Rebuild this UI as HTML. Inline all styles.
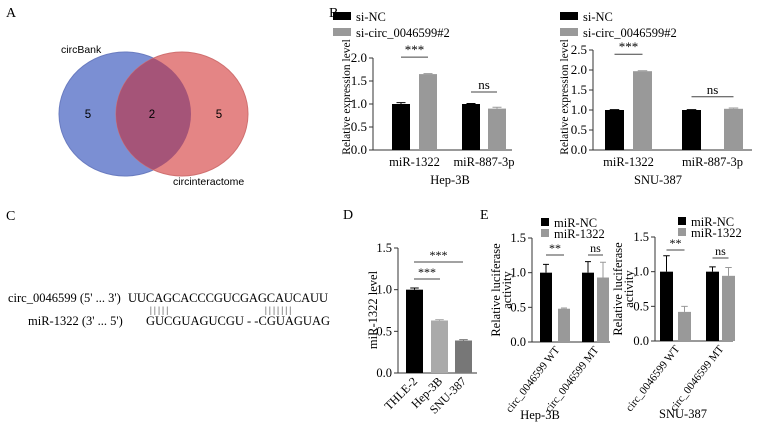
<!DOCTYPE html>
<html><head><meta charset="utf-8"><style>
body{margin:0;background:#fff;}
svg{display:block;font-family:"Liberation Serif",serif;}
</style></head><body>
<svg id="fig" width="770" height="440" viewBox="0 0 770 440">
<defs><clipPath id="clipL"><ellipse cx="125" cy="114" rx="66" ry="62"/></clipPath></defs>
<g>
<text x="6" y="17" font-size="14">A</text>
<ellipse cx="125" cy="114" rx="66" ry="62" fill="#7b8fd3" stroke="#6a7cc0"/>
<ellipse cx="182" cy="114" rx="66" ry="62" fill="#e48585" stroke="#d07070"/>
<ellipse cx="182" cy="114" rx="66" ry="62" fill="#a55478" clip-path="url(#clipL)"/>
<text x="61" y="53" font-family="Liberation Sans,sans-serif" font-size="10.5">circBank</text>
<text x="173" y="185" font-family="Liberation Sans,sans-serif" font-size="10.5">circinteractome</text>
<text x="88" y="118" font-family="Liberation Sans,sans-serif" font-size="11.5" text-anchor="middle">5</text>
<text x="152" y="118" font-family="Liberation Sans,sans-serif" font-size="11.5" text-anchor="middle">2</text>
<text x="219" y="118" font-family="Liberation Sans,sans-serif" font-size="11.5" text-anchor="middle">5</text>
</g>
<g font-size="12.5">
<text x="6" y="220" font-size="14">C</text>
<text x="8" y="302">circ_0046599 (5' ... 3')</text>
<text x="128" y="302" textLength="200">UUCAGCACCCGUCGAGCAUCAUU</text>
<text x="150" y="313" font-size="9">| | | | |</text>
<text x="265" y="313" font-size="9">| | | | | | |</text>
<text x="28" y="325">miR-1322 (3' ... 5')</text>
<text x="146" y="325" textLength="184">GUCGUAGUCGU - -CGUAGUAG</text>
</g>
<text x="329" y="17" font-size="14">B</text>
<text x="343" y="219" font-size="14">D</text>
<text x="480" y="219" font-size="14">E</text>
<g id="charts"></g>
</svg>
<script>
// Panel B left (Hep-3B)
const bCats = ['miR-1322','miR-887-3p'];
const b1NC = [1.0, 1.0];
const b1NCerr = [0.03, 0.01];
const b1Si = [1.65, 0.9];
const b1SiErr = [0.01, 0.03];
const b1Ticks = [0.0, 0.5, 1.0, 1.5, 2.0];
// Panel B right (SNU-387)
const b2NC = [1.0, 1.0];
const b2NCerr = [0.01, 0.01];
const b2Si = [1.97, 1.03];
const b2SiErr = [0.01, 0.02];
const b2Ticks = [0.0, 0.5, 1.0, 1.5, 2.0, 2.5];
// Panel D
const dCats = ['THLE-2','Hep-3B','SNU-387'];
const dVals = [1.0, 0.63, 0.39];
const dErr = [0.02, 0.01, 0.01];
const dTicks = [0.0, 0.5, 1.0, 1.5];
// Panel E
const eCats = ['circ_0046599 WT','circ_0046599 MT'];
const e1NC = [1.0, 1.0];
const e1NCerr = [0.12, 0.16];
const e1Mir = [0.48, 0.93];
const e1MirErr = [0.01, 0.22];
const e2NC = [1.0, 1.0];
const e2NCerr = [0.23, 0.07];
const e2Mir = [0.42, 0.94];
const e2MirErr = [0.08, 0.12];
const eTicks = [0.0, 0.5, 1.0, 1.5];

const NS='http://www.w3.org/2000/svg';
const root=document.getElementById('charts');
function el(tag,attrs,parent,text){const e=document.createElementNS(NS,tag);for(const k in attrs)e.setAttribute(k,attrs[k]);if(text!==undefined)e.textContent=text;(parent||root).appendChild(e);return e;}
function mk(y0,y1,vmax){return v=>y0-(y0-y1)*v/vmax;}

function axes(g,x0,x1,y,ticks,fs){
  const a=el('line',{x1:x0,y1:y(0),x2:x1,y2:y(0),stroke:'#333','stroke-width':1},g);
  
  
  const b=el('line',{x1:x0,y1:y(0),x2:x0,y2:y(ticks[ticks.length-1]),stroke:'#333','stroke-width':1},g);
  
  
  ticks.forEach(t=>{
    const l=el('line',{x1:x0-4,x2:x0,y1:y(t),y2:y(t),stroke:'#333'},g);
    
    
    const tx=el('text',{x:x0-6,y:y(t)+4,'font-size':fs,'text-anchor':'end'},g,t.toFixed(1));
    
    
  });
}
function bar(g,x,w,v,err,y,fill,name){
  const r=el('rect',{x:x,y:y(v),width:w,height:y(0)-y(v),fill:fill},g);
  
  
  const cx=x+w/2;
  const e=el('path',{d:`M${cx},${y(v)}V${y(v+err)}M${cx-w/4},${y(v+err)}H${cx+w/4}`,stroke:fill,'stroke-width':1,fill:'none'},g);
  
  
}
function sig(g,x1,x2,yy,txt,fs){
  const l=el('line',{x1:x1,x2:x2,y1:yy,y2:yy,stroke:'#444'},g);
  
  
  const t=el('text',{x:(x1+x2)/2,y:yy-3,'font-size':fs,'text-anchor':'middle'},g,txt);
  
  
}
function legend(g,x,y,labels,colors,fs,sw,sh,gap){
  labels.forEach((lb,i)=>{
    const r=el('rect',{x:x,y:y+i*gap-sh-1,width:sw,height:sh,fill:colors[i]},g);
    
    
    const t=el('text',{x:x+sw+5,y:y+i*gap,'font-size':fs},g,lb);
    
    
  });
}
const BLK='#000', GRY='#999';

function bChart(name,x0,x1,y0,y1,ticks,nc,ncE,si,siE,barX,bw,sigs,cell,cellX,ylab,ylabX,legX){
  const g=el('g',{});
  
  
  const y=mk(y0,y1,ticks[ticks.length-1]);
  axes(g,x0,x1,y,ticks,13);
  bCats.forEach((c,i)=>{
    bar(g,barX[i][0],bw,nc[i],ncE[i],y,BLK,'bar-si-nc-'+c);
    bar(g,barX[i][1],bw,si[i],siE[i],y,GRY,'bar-si-circ-'+c);
    const t=el('text',{x:(barX[i][0]+barX[i][1]+bw)/2,y:y0+16,'font-size':12.5,'text-anchor':'middle'},g,c);
    
    
    sig(g,barX[i][0]+bw/2,barX[i][1]+bw/2,y(Math.max(nc[i],si[i]))-(i==0?17:12),sigs[i],13);
  });
  const ct=el('text',{x:cellX,y:y0+34,'font-size':12.5,'text-anchor':'middle'},g,cell);
  
  
  const yl=el('text',{x:0,y:0,'font-size':11.5,'text-anchor':'middle',transform:`translate(${ylabX},97) rotate(-90)`},g,ylab);
  
  
  legend(g,legX,21,['si-NC','si-circ_0046599#2'],[BLK,GRY],12.5,18,8,16);
}
bChart('chart-b-hep3b',373,512,150,58,b1Ticks,b1NC,b1NCerr,b1Si,b1SiErr,[[392,419],[462,488]],18,['***','ns'],'Hep-3B',450,'Relative expression level',350,333);
bChart('chart-b-snu387',593,752,150,50,b2Ticks,b2NC,b2NCerr,b2Si,b2SiErr,[[605,633],[682,724]],19,['***','ns'],'SNU-387',658,'Relative expression level',568,560);

(function(){
  const g=el('g',{});
  
  
  const y=mk(373,248,1.5);
  axes(g,398,477,y,dTicks,12.5);
  const xs=[406,431,455], cols=['#000','#aaa','#777'];
  dCats.forEach((c,i)=>{
    bar(g,xs[i],17,dVals[i],dErr[i],y,cols[i],'bar-'+c);
    const t=el('text',{x:0,y:0,'font-size':12,'text-anchor':'end',transform:`translate(${xs[i]+12},${382}) rotate(-45)`},g,c);
    
    
  });
  sig(g,414,440,279,'***',12);
  sig(g,414,463,262,'***',12);
  const yl=el('text',{x:0,y:0,'font-size':12.5,'text-anchor':'middle',transform:`translate(377,310) rotate(-90)`},g,'miR-1322 level');
  
  
})();

function eChart(name,x0,y0,y1,nc,ncE,mir,mirE,xs,bw,cell,cellX,ylabX,legX,legY,sigY){
  const g=el('g',{});
  
  
  const y=mk(y0,y1,1.5);
  axes(g,x0,x0+78,y,eTicks,12.5);
  eCats.forEach((c,i)=>{
    bar(g,xs[i][0],bw,nc[i],ncE[i],y,BLK,'bar-mir-nc-'+i);
    bar(g,xs[i][1],bw,mir[i],mirE[i],y,GRY,'bar-mir-1322-'+i);
    const t=el('text',{x:0,y:0,'font-size':11,'text-anchor':'end',transform:`translate(${xs[i][1]+2},${y0+8}) rotate(-52)`},g,c);
    
    
    sig(g,xs[i][0]+bw/2,xs[i][1]+bw/2,sigY[i],i==0?'**':'ns',12);
  });
  const ct=el('text',{x:cellX,y:y0+77,'font-size':12.5,'text-anchor':'middle'},g,cell);
  
  
  const yl=el('text',{x:0,y:0,'font-size':12.5,'text-anchor':'middle',transform:`translate(${ylabX},${(y0+y1)/2}) rotate(-90)`},g);
  
  
  el('tspan',{x:0,dy:0},yl,'Relative luciferase');
  el('tspan',{x:0,dy:11},yl,'activity');
  legend(g,legX,legY,['miR-NC','miR-1322'],[BLK,GRY],12.5,8,8,11);
}
eChart('chart-e-hep3b',532,342,238,e1NC,e1NCerr,e1Mir,e1MirErr,[[540,558],[582,597]],12,'Hep-3B',540,500,541,227,[255,255]);
eChart('chart-e-snu387',655,341,237,e2NC,e2NCerr,e2Mir,e2MirErr,[[660,678],[706,722]],13,'SNU-387',683,622,678,226,[250,258]);
</script>
</body></html>
